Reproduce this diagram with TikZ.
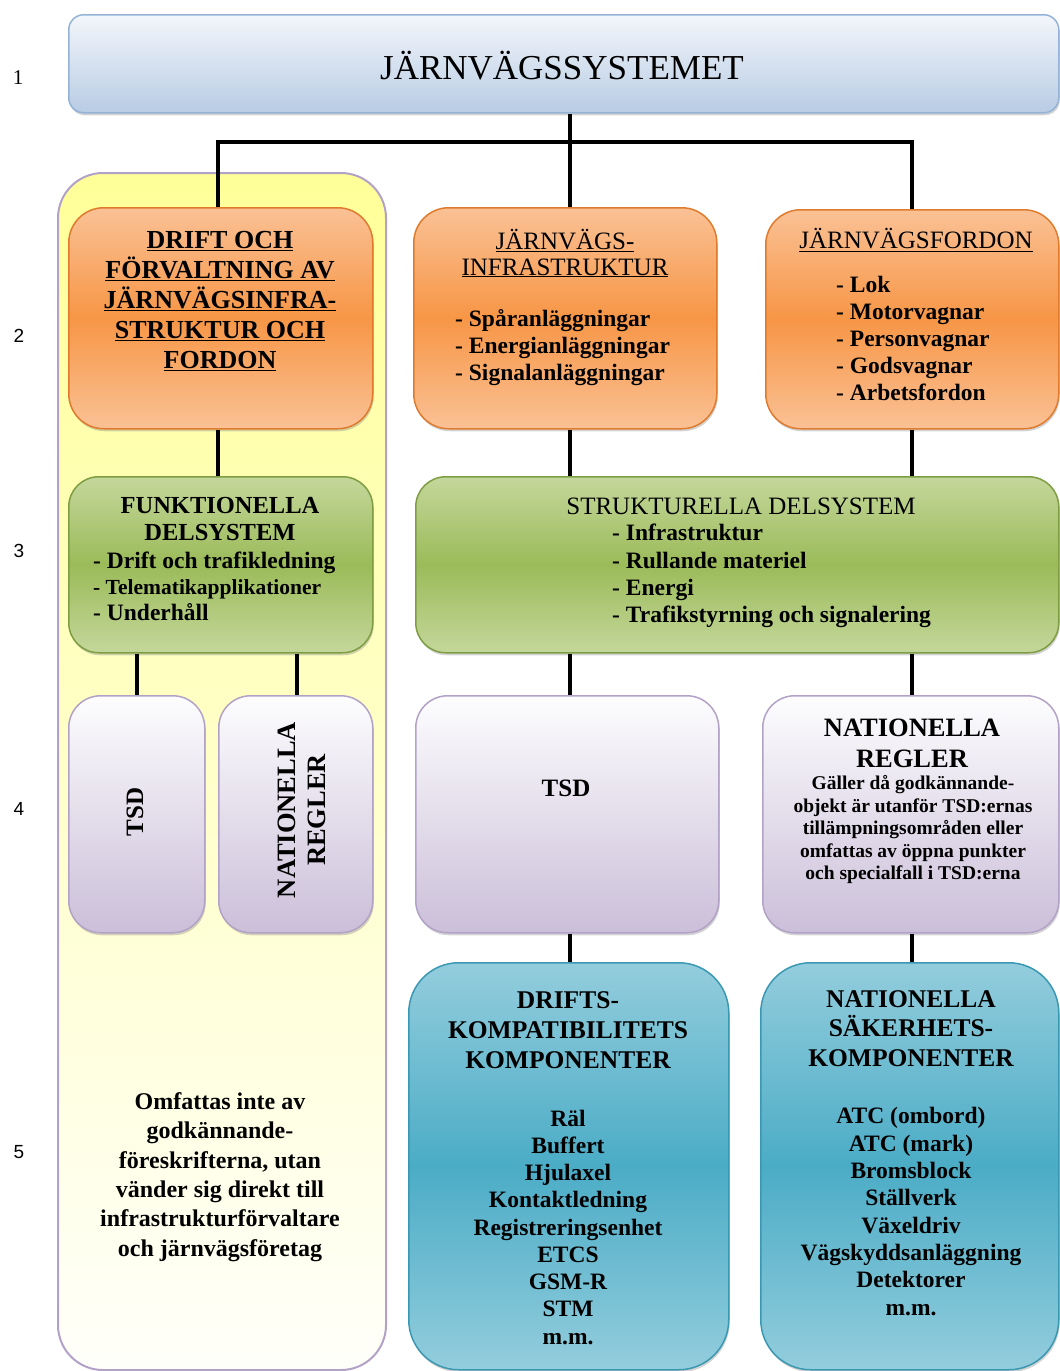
\documentclass[tikz,border=0pt]{standalone}
\usepackage{fontspec}
\setmainfont{Liberation Serif}
\newfontfamily\numfont{Liberation Sans}
\usetikzlibrary{shadows}
\definecolor{TopLight}{HTML}{F3F6FB}
\definecolor{TopDark}{HTML}{B8CCE4}
\definecolor{TopLine}{HTML}{95B3D7}
\definecolor{OrLight}{HTML}{FAC195}
\definecolor{OrMid}{HTML}{F79646}
\definecolor{OrLine}{HTML}{E07B2E}
\definecolor{GrLight}{HTML}{C4D79B}
\definecolor{GrMid}{HTML}{9BBB59}
\definecolor{GrLine}{HTML}{7F9E44}
\definecolor{PuLight}{HTML}{FDFDFE}
\definecolor{PuDark}{HTML}{CBBFD9}
\definecolor{PuLine}{HTML}{B3A2C7}
\definecolor{BlLight}{HTML}{93CDDD}
\definecolor{BlMid}{HTML}{4BACC6}
\definecolor{BlLine}{HTML}{3A98B2}
\definecolor{YeTop}{HTML}{FFFF99}
\definecolor{YeBot}{HTML}{FFFFFA}
\begin{document}
\begin{tikzpicture}[x=1pt,y=-1pt,
  box/.style={draw, line width=1.5pt, anchor=north west, inner sep=0pt,
    drop shadow={shadow xshift=1pt, shadow yshift=-2.5pt, opacity=0.35}},
  topbox/.style={box, rounded corners=15pt, draw=TopLine, top color=TopLight, bottom color=TopDark},
  obox/.style={box, rounded corners=35pt, draw=OrLine, top color=OrLight, bottom color=OrLight, middle color=OrMid},
  gbox/.style={box, rounded corners=30pt, draw=GrLine, top color=GrLight, bottom color=GrLight, middle color=GrMid},
  pbox/.style={box, rounded corners=32pt, draw=PuLine, top color=PuLight, bottom color=PuDark},
  bbox/.style={box, rounded corners=50pt, draw=BlLine, top color=BlLight, bottom color=BlLight, middle color=BlMid},
  ycol/.style={draw=PuLine, line width=2pt, anchor=north west, inner sep=0pt, rounded corners=45pt, top color=YeTop, bottom color=YeBot},
  conn/.style={line width=3.5pt, black},
  txt/.style={inner sep=0pt, align=center, text=black},
  lst/.style={inner sep=0pt, align=left, text=black, anchor=west},
  num/.style={inner sep=0pt, font=\numfont\fontsize{19}{22}\selectfont}
]
\useasboundingbox (0,0) rectangle (1060,1371);

% row numbers
\node[inner sep=0pt, font=\fontsize{21}{24}\selectfont] (r1) at (18,78) {1};
\node[num] (r2) at (19,336) {2};
\node[num] (r3) at (19,551) {3};
\node[num] (r4) at (19,809) {4};
\node[num] (r5) at (19,1152) {5};

% yellow column
\node[ycol, minimum width=328, minimum height=1197] (yc) at (57,172) {};

% connector columns
\coordinate (cA) at (218,142);
\coordinate (cB) at (570,142);
\coordinate (cC) at (912,142);
\coordinate (cT) at (137,670);
\coordinate (cN) at (297,670);

% boxes
\path
  (68,14)   node[topbox, minimum width=990, minimum height=98] (top) {}
  (68,207)  node[obox, minimum width=304, minimum height=221] (o1) {}
  (413,207) node[obox, minimum width=303, minimum height=221] (o2) {}
  (765,209) node[obox, minimum width=293, minimum height=219] (o3) {}
  (68,476)  node[gbox, minimum width=304, minimum height=176] (g1) {}
  (415,476) node[gbox, minimum width=643, minimum height=176] (g2) {}
  (68,695)  node[pbox, minimum width=136, minimum height=237] (t1) {}
  (218,695) node[pbox, minimum width=154, minimum height=237] (n1) {}
  (415,695) node[pbox, minimum width=303, minimum height=237] (t2) {}
  (762,695) node[pbox, minimum width=296, minimum height=237] (n2) {}
  (408,962) node[bbox, minimum width=320, minimum height=407] (b1) {}
  (760,962) node[bbox, minimum width=298, minimum height=407] (b2) {};

% connectors
\draw[conn] (top.south -| cB) -- (o2.north -| cB);
\draw[conn] (o1.north -| cA) -- (cA) -- (cC) -- (o3.north -| cC);
\draw[conn] (o1.south -| cA) -- (g1.north -| cA);
\draw[conn] (o2.south -| cB) -- (g2.north -| cB);
\draw[conn] (o3.south -| cC) -- (g2.north -| cC);
\draw[conn] (g1.south -| cT) -- (t1.north -| cT);
\draw[conn] (g1.south -| cN) -- (n1.north -| cN);
\draw[conn] (g2.south -| cB) -- (t2.north -| cB);
\draw[conn] (g2.south -| cC) -- (n2.north -| cC);
\draw[conn] (t2.south -| cB) -- (b1.north -| cB);
\draw[conn] (n2.south -| cC) -- (b2.north -| cC);

% texts
\node[txt, font=\fontsize{35}{40}\selectfont] (ttop) at (562,66) {JÄRNVÄGSSYSTEMET};

\node[txt, font=\fontsize{26}{30}\selectfont\bfseries] (to1) at (220,301)
  {\underline{DRIFT OCH}\\\underline{FÖRVALTNING AV}\\\underline{JÄRNVÄGSINFRA-}\\\underline{STRUKTUR OCH}\\\underline{FORDON}};

\node[txt, font=\fontsize{25}{26}\selectfont] (to2) at (565,253)
  {\underline{JÄRNVÄGS-}\\\underline{INFRASTRUKTUR}};
\node[lst, font=\fontsize{23.5}{27}\selectfont\bfseries] (lo2) at (455,348)
  {- Spåranläggningar\\- Energianläggningar\\- Signalanläggningar};

\node[txt, font=\fontsize{25}{27}\selectfont] (to3) at (916,240)
  {\underline{JÄRNVÄGSFORDON}};
\node[lst, font=\fontsize{23.5}{27}\selectfont\bfseries] (lo3) at (836,338)
  {- Lok\\- Motorvagnar\\- Personvagnar\\- Godsvagnar\\- Arbetsfordon};

\node[txt, font=\fontsize{24.5}{27}\selectfont\bfseries] (tg1) at (220,519.5)
  {FUNKTIONELLA\\DELSYSTEM};
\node[lst, font=\fontsize{23.5}{26}\selectfont\bfseries] (lg1) at (93,586)
  {- Drift och trafikledning\\{\fontsize{21.5}{26}\selectfont - Telematikapplikationer}\\- Underhåll};

\node[txt, font=\fontsize{25}{27}\selectfont] (tg2) at (741,506)
  {STRUKTURELLA DELSYSTEM};
\node[lst, font=\fontsize{23.5}{27.3}\selectfont\bfseries] (lg2) at (612,576)
  {- Infrastruktur\\- Rullande materiel\\- Energi\\- Trafikstyrning och signalering};

\node[txt, rotate=90, font=\fontsize{25}{30}\selectfont\bfseries] (tt1) at (135,812) {TSD};
\node[txt, rotate=90, font=\fontsize{26.5}{30}\selectfont\bfseries] (tn1) at (302,810)
  {NATIONELLA\\REGLER};

\node[txt, font=\fontsize{25}{30}\selectfont\bfseries] (tt2) at (566,788) {TSD};

\node[txt, font=\fontsize{26.5}{31}\selectfont\bfseries] (tn2) at (912,743.5)
  {NATIONELLA\\REGLER};
\node[txt, font=\fontsize{19.5}{22.5}\selectfont\bfseries] (dn2) at (913,830)
  {Gäller då godkännande-\\objekt är utanför TSD:ernas\\tillämpningsområden eller\\omfattas av öppna punkter\\och specialfall i TSD:erna};

\node[txt, font=\fontsize{25.5}{30}\selectfont\bfseries] (tb1) at (568,1030)
  {DRIFTS-\\KOMPATIBILITETS\\KOMPONENTER};
\node[txt, font=\fontsize{23.5}{27.25}\selectfont\bfseries] (lb1) at (568,1227)
  {Räl\\Buffert\\Hjulaxel\\Kontaktledning\\Registreringsenhet\\ETCS\\GSM-R\\STM\\m.m.};

\node[txt, font=\fontsize{25.5}{29.5}\selectfont\bfseries] (tb2) at (911,1028.5)
  {NATIONELLA\\SÄKERHETS-\\KOMPONENTER};
\node[txt, font=\fontsize{23.5}{27.3}\selectfont\bfseries] (lb2) at (911,1211.5)
  {ATC (ombord)\\ATC (mark)\\Bromsblock\\Ställverk\\Växeldriv\\Vägskyddsanläggning\\Detektorer\\m.m.};

\node[txt, font=\fontsize{24}{29.3}\selectfont\bfseries] (ty) at (220,1177)
  {Omfattas inte av\\godkännande-\\föreskrifterna, utan\\vänder sig direkt till\\infrastrukturförvaltare\\och järnvägsföretag};
\end{tikzpicture}
\end{document}
